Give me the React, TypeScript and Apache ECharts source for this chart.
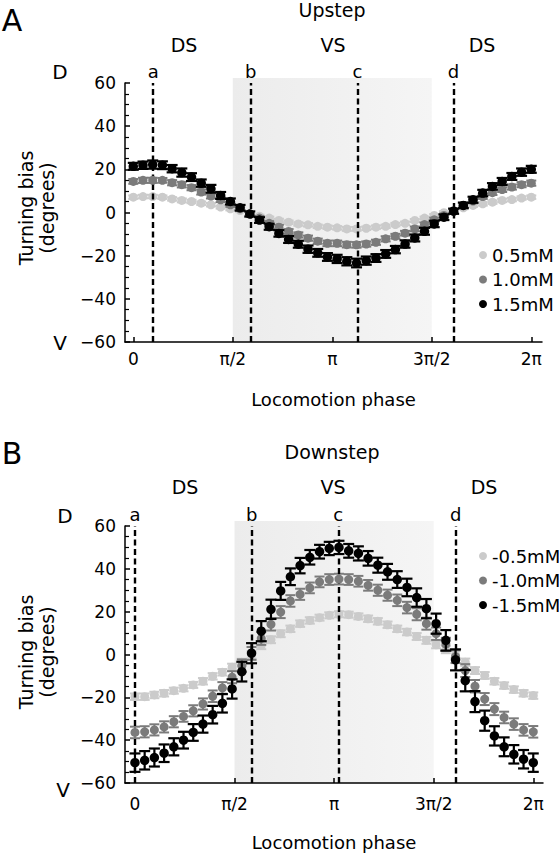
import React, { useEffect, useRef } from "react";
import * as echarts from "echarts";

const FONT = "DejaVu Sans";

// Phase of each bin (degrees of the locomotion cycle, 0..360)
const phaseDeg = [
  0, 8.78, 17.56, 26.34, 35.12, 43.9, 52.68, 61.46, 70.24, 79.02, 87.8, 96.59, 105.37, 114.15,
  122.93, 131.71, 140.49, 149.27, 158.05, 166.83, 175.61, 184.39, 193.17, 201.95, 210.73,
  219.51, 228.29, 237.07, 245.85, 254.63, 263.41, 272.2, 280.98, 289.76, 298.54, 307.32,
  316.1, 324.88, 333.66, 342.44, 351.22, 360,
];

const tickValues = [0, 90, 180, 270, 360];
const tickLabels = ["0", "π/2", "π", "3π/2", "2π"];

const upNames = ["0.5mM", "1.0mM", "1.5mM"];
const downNames = ["-0.5mM", "-1.0mM", "-1.5mM"];
const seriesColors = ["#cbcbcb", "#7b7b7b", "#000000"];

// Upstep
const up05 = [7.1, 7.4, 7.4, 7.1, 6.3, 5.6, 5.1, 4.3, 3.6, 2.5, 1.7, 0.9, -0.6, -1.7, -2.6, -3.7, -4.5, -5.3, -5.7, -6.4, -6.8, -7.1, -7.6, -7.6, -7.3, -6.8, -6.4, -5.6, -5.0, -3.7, -2.6, -1.4, -0.1, 0.9, 2.2, 3.3, 4.0, 4.8, 5.6, 6.0, 6.7, 7.1];
const up10 = [14.4, 14.9, 14.9, 14.9, 13.8, 12.9, 11.5, 9.5, 7.6, 5.9, 3.6, 1.7, -0.6, -2.6, -5.0, -6.8, -8.8, -10.4, -11.9, -13.3, -14.3, -14.3, -14.9, -15.0, -14.6, -13.8, -12.2, -11.0, -9.6, -7.6, -5.6, -3.4, -1.4, 0.6, 3.3, 5.3, 7.4, 9.2, 10.6, 11.8, 12.9, 13.6];
const up15 = [21.4, 21.9, 22.2, 21.9, 20.3, 18.5, 16.4, 13.6, 11.0, 7.9, 5.1, 2.2, -0.7, -3.5, -6.6, -9.7, -12.5, -14.7, -17.0, -18.7, -20.6, -21.5, -22.6, -23.4, -22.3, -21.1, -19.2, -17.2, -14.6, -11.8, -8.7, -5.3, -2.2, 0.6, 3.3, 5.9, 9.0, 12.1, 14.4, 16.7, 18.7, 20.0];
const up05Err = [0.8, 0.8, 0.8, 0.8, 0.8, 0.9, 0.8, 0.8, 0.8, 0.7, 0.7, 0.7, 0.7, 0.7, 0.7, 0.8, 0.8, 0.8, 0.8, 0.8, 0.8, 0.8, 0.9, 0.9, 0.8, 0.8, 0.8, 0.8, 0.8, 0.7, 0.7, 0.7, 0.7, 0.7, 0.7, 0.7, 0.8, 0.8, 0.8, 0.8, 0.8, 0.8];
const up10Err = [1.1, 1.2, 1.2, 1.1, 1.2, 1.3, 1.2, 1.2, 1.1, 1.1, 1.0, 1.0, 0.9, 1.0, 1.0, 1.1, 1.1, 1.2, 1.2, 1.2, 1.3, 1.3, 1.3, 1.3, 1.2, 1.2, 1.2, 1.1, 1.1, 1.1, 1.0, 1.0, 0.9, 0.9, 1.0, 1.0, 1.1, 1.1, 1.1, 1.2, 1.2, 1.2];
const up15Err = [1.6, 1.7, 1.9, 1.8, 1.7, 1.9, 1.8, 1.7, 1.8, 1.6, 1.4, 1.3, 1.2, 1.3, 1.4, 1.5, 1.6, 1.6, 1.7, 1.8, 1.8, 1.9, 1.9, 2.0, 1.9, 1.8, 1.8, 1.7, 1.7, 1.6, 1.6, 1.5, 1.3, 1.2, 1.3, 1.4, 1.5, 1.5, 1.6, 1.6, 1.7, 1.6];

// Downstep
const down05 = [-19.7, -19.7, -18.9, -18.1, -16.9, -15.8, -14.2, -12.5, -10.2, -8.3, -5.9, -3.6, -0.2, 4.2, 6.9, 9.7, 12.0, 14.4, 15.9, 17.2, 18.3, 18.8, 18.6, 17.8, 16.7, 15.5, 13.9, 12.0, 10.5, 8.4, 6.6, 4.5, 2.3, 0.0, -3.6, -7.5, -9.8, -12.5, -14.5, -16.4, -18.1, -19.2];
const down10 = [-36.4, -36.1, -35.2, -33.8, -31.4, -28.9, -26.3, -23.1, -19.5, -15.6, -10.6, -5.2, 0.5, 7.5, 14.1, 19.8, 25.0, 28.1, 31.1, 33.9, 35.0, 35.2, 35.0, 34.2, 32.3, 30.0, 27.7, 25.3, 21.9, 18.8, 14.4, 9.7, 4.8, -1.0, -7.5, -14.8, -20.8, -25.5, -29.4, -32.5, -35.2, -36.1];
const down15 = [-50.5, -49.4, -48.1, -46.1, -43.1, -40.0, -36.4, -32.5, -28.1, -22.8, -16.1, -8.0, 0.6, 10.9, 21.1, 29.7, 36.3, 41.5, 45.4, 48.0, 49.5, 50.0, 48.4, 47.2, 44.9, 41.7, 38.6, 35.0, 31.3, 26.6, 21.4, 14.4, 6.6, -2.5, -12.2, -22.0, -30.9, -38.0, -43.1, -46.6, -48.9, -50.5];
const down05Err = [1.5, 1.5, 1.5, 1.5, 1.4, 1.4, 1.4, 1.5, 1.5, 1.5, 1.6, 1.6, 1.7, 1.7, 1.6, 1.6, 1.5, 1.5, 1.5, 1.4, 1.4, 1.4, 1.4, 1.4, 1.5, 1.5, 1.5, 1.5, 1.5, 1.6, 1.6, 1.6, 1.7, 1.7, 1.7, 1.6, 1.6, 1.5, 1.5, 1.5, 1.5, 1.5];
const down10Err = [2.7, 2.6, 2.6, 2.6, 2.6, 2.5, 2.6, 2.6, 2.7, 2.7, 2.8, 2.9, 3.0, 3.0, 2.9, 2.8, 2.7, 2.6, 2.5, 2.5, 2.5, 2.5, 2.5, 2.5, 2.5, 2.6, 2.6, 2.7, 2.7, 2.8, 2.8, 2.9, 3.0, 3.0, 3.0, 2.9, 2.8, 2.8, 2.7, 2.7, 2.7, 2.7];
const down15Err = [4.3, 4.3, 4.2, 4.1, 4.0, 3.9, 3.9, 4.0, 4.1, 4.3, 4.5, 4.6, 4.7, 4.7, 4.5, 4.2, 3.9, 3.6, 3.4, 3.2, 3.1, 3.1, 3.2, 3.3, 3.4, 3.5, 3.7, 3.9, 4.1, 4.3, 4.5, 4.7, 4.8, 4.9, 5.0, 4.9, 4.7, 4.5, 4.4, 4.3, 4.3, 4.3];

// Phase markers (degrees) and the VS band
const upMarkerNames = ["a", "b", "c", "d"];
const upMarkerPhase = [18, 106.3, 202.8, 289.7];
const downMarkerNames = ["a", "b", "c", "d"];
const downMarkerPhase = [0, 105.5, 183.8, 289.9];
const vsBand = [90, 270];

const symbolSizes = [9, 9, 9.5];
const capWidths = [10, 10, 11];
const barWidths = [2, 2, 2.2];

export default function App() {
  const ref = useRef<HTMLDivElement>(null);

  useEffect(() => {
    if (!ref.current) return;
    const chart = echarts.init(ref.current, undefined, { renderer: "svg" });

    const shadeGradient = () =>
      new echarts.graphic.LinearGradient(0, 0, 1, 0, [
        { offset: 0, color: "#ececec" },
        { offset: 1, color: "#f5f5f5" },
      ]);

    const makeXAxis = (gridIndex: number, min: number, max: number, labelMargin: number, nameGap: number) => ({
      type: "value",
      gridIndex,
      min,
      max,
      splitLine: { show: false },
      axisLine: { show: true, onZero: false, lineStyle: { color: "#000", width: 1.5 } },
      axisTick: {
        show: true,
        inside: true,
        length: 5,
        customValues: tickValues,
        lineStyle: { color: "#000", width: 1.5 },
      },
      axisLabel: {
        customValues: tickValues,
        margin: labelMargin,
        fontSize: 17,
        fontFamily: FONT,
        color: "#000",
        formatter: (v: number) => {
          const i = tickValues.indexOf(Math.round(v));
          return i >= 0 ? tickLabels[i] : "";
        },
      },
      name: "Locomotion phase",
      nameLocation: "middle",
      nameGap,
      nameTextStyle: { fontSize: 18, fontFamily: FONT, color: "#000" },
    });

    const makeYAxis = (gridIndex: number) => ({
      type: "value",
      gridIndex,
      min: -60,
      max: 60,
      interval: 20,
      splitLine: { show: false },
      axisLine: { show: true, onZero: false, lineStyle: { color: "#000", width: 1.5 } },
      axisTick: { show: true, inside: true, length: 5, lineStyle: { color: "#000", width: 1.5 } },
      minorTick: { show: true, splitNumber: 4, length: 4, lineStyle: { color: "#000", width: 1.2 } },
      axisLabel: {
        margin: 9,
        fontSize: 17,
        fontFamily: FONT,
        color: "#000",
        formatter: (v: number) => (v < 0 ? "\u2212" + Math.abs(v) : String(v)),
      },
    });

    const bandSeries = (idx: number) => ({
      type: "custom",
      name: "band" + idx,
      xAxisIndex: idx,
      yAxisIndex: idx,
      z: 0,
      silent: true,
      clip: false,
      data: [[vsBand[0], vsBand[1]]],
      encode: { x: [0, 1] },
      renderItem: (_p: any, api: any) => {
        const p0 = api.coord([api.value(0), 60]);
        const p1 = api.coord([api.value(1), -60]);
        return {
          type: "rect",
          shape: { x: p0[0], y: p0[1] - 5, width: p1[0] - p0[0], height: p1[1] - p0[1] + 5 },
          style: { fill: shadeGradient() },
        };
      },
    });

    const markerSeries = (idx: number, names: string[], phases: number[]) => ({
      type: "line",
      name: "markers" + idx,
      xAxisIndex: idx,
      yAxisIndex: idx,
      data: [],
      z: 1,
      silent: true,
      markLine: {
        silent: true,
        symbol: ["none", "none"],
        animation: false,
        lineStyle: { color: "#000", width: 2.4, type: [6, 3.5] },
        label: {
          show: true,
          position: "end",
          distance: 3,
          formatter: "{b}",
          color: "#000",
          fontSize: 18,
          fontFamily: FONT,
        },
        emphasis: { disabled: true },
        data: names.map((n, i) => ({ name: n, xAxis: phases[i] })),
      },
    });

    const errSeries = (idx: number, k: number, name: string, vals: number[], errs: number[]) => ({
      type: "custom",
      name: name + " err",
      xAxisIndex: idx,
      yAxisIndex: idx,
      z: 2 + k * 2,
      silent: true,
      data: phaseDeg.map((x, i) => [x, vals[i], errs[i]]),
      encode: { x: 0, y: 1 },
      renderItem: (_p: any, api: any) => {
        const x = api.value(0);
        const y = api.value(1);
        const e = api.value(2);
        const t = api.coord([x, y + e]);
        const b = api.coord([x, y - e]);
        const hw = capWidths[k] / 2;
        const st = { stroke: seriesColors[k], lineWidth: barWidths[k] };
        return {
          type: "group",
          children: [
            { type: "line", shape: { x1: t[0], y1: t[1], x2: b[0], y2: b[1] }, style: st },
            { type: "line", shape: { x1: t[0] - hw, y1: t[1], x2: t[0] + hw, y2: t[1] }, style: st },
            { type: "line", shape: { x1: b[0] - hw, y1: b[1], x2: b[0] + hw, y2: b[1] }, style: st },
          ],
        };
      },
    });

    const dotSeries = (idx: number, k: number, name: string, vals: number[]) => ({
      type: "scatter",
      name,
      xAxisIndex: idx,
      yAxisIndex: idx,
      z: 3 + k * 2,
      symbol: "circle",
      symbolSize: symbolSizes[k],
      itemStyle: { color: seriesColors[k], opacity: 1 },
      data: phaseDeg.map((x, i) => [x, vals[i]]),
    });

    const upVals = [up05, up10, up15];
    const upErrs = [up05Err, up10Err, up15Err];
    const downVals = [down05, down10, down15];
    const downErrs = [down05Err, down10Err, down15Err];

    const series: any[] = [
      bandSeries(0),
      markerSeries(0, upMarkerNames, upMarkerPhase),
      bandSeries(1),
      markerSeries(1, downMarkerNames, downMarkerPhase),
    ];
    for (let k = 0; k < 3; k++) {
      series.push(errSeries(0, k, upNames[k], upVals[k], upErrs[k]));
      series.push(dotSeries(0, k, upNames[k], upVals[k]));
      series.push(errSeries(1, k, downNames[k], downVals[k], downErrs[k]));
      series.push(dotSeries(1, k, downNames[k], downVals[k]));
    }

    const txt = (text: string, x: number, y: number, fontSize: number, rotation = 0) => ({
      type: "text",
      x,
      y,
      rotation,
      silent: true,
      style: {
        text,
        fontSize,
        fontFamily: FONT,
        fill: "#000",
        align: "center",
        verticalAlign: "middle",
      },
    });

    const legendBase = {
      orient: "vertical",
      icon: "circle",
      itemWidth: 8,
      itemHeight: 8,
      itemGap: 6.5,
      left: 474,
      selectedMode: false,
      textStyle: { fontSize: 18, fontFamily: FONT, color: "#000", lineHeight: 18 },
    };

    chart.setOption({
      animation: false,
      backgroundColor: "#fff",
      grid: [
        { left: 125, top: 83, width: 417, height: 259, outerBoundsMode: "none" },
        { left: 125, top: 526, width: 418, height: 257, outerBoundsMode: "none" },
      ],
      xAxis: [makeXAxis(0, -7.5, 369.7, 8, 48), makeXAxis(1, -9, 368.8, 12, 50)],
      yAxis: [makeYAxis(0), makeYAxis(1)],
      legend: [
        { ...legendBase, top: 241, data: upNames },
        { ...legendBase, top: 542, data: downNames },
      ],
      graphic: [
        txt("A", 12, 20, 30),
        txt("Upstep", 332, 10, 19),
        txt("DS", 184, 45, 19),
        txt("VS", 333, 45, 19),
        txt("DS", 482, 45, 19),
        txt("D", 60, 72, 20),
        txt("V", 60, 343, 20),
        txt("Turning bias", 26, 208, 19, Math.PI / 2),
        txt("(degrees)", 47, 208, 19, Math.PI / 2),
        txt("B", 12, 453, 30),
        txt("Downstep", 332, 452, 19),
        txt("DS", 185, 487, 19),
        txt("VS", 333, 487, 19),
        txt("DS", 484, 487, 19),
        txt("D", 65, 516, 20),
        txt("V", 63, 790, 20),
        txt("Turning bias", 26, 652, 19, Math.PI / 2),
        txt("(degrees)", 47, 652, 19, Math.PI / 2),
      ],
      series,
    });

    return () => chart.dispose();
  }, []);

  return (
    <div
      ref={ref}
      style={{ position: "absolute", left: 0, top: 0, width: 560, height: 853, background: "#fff" }}
    />
  );
}
